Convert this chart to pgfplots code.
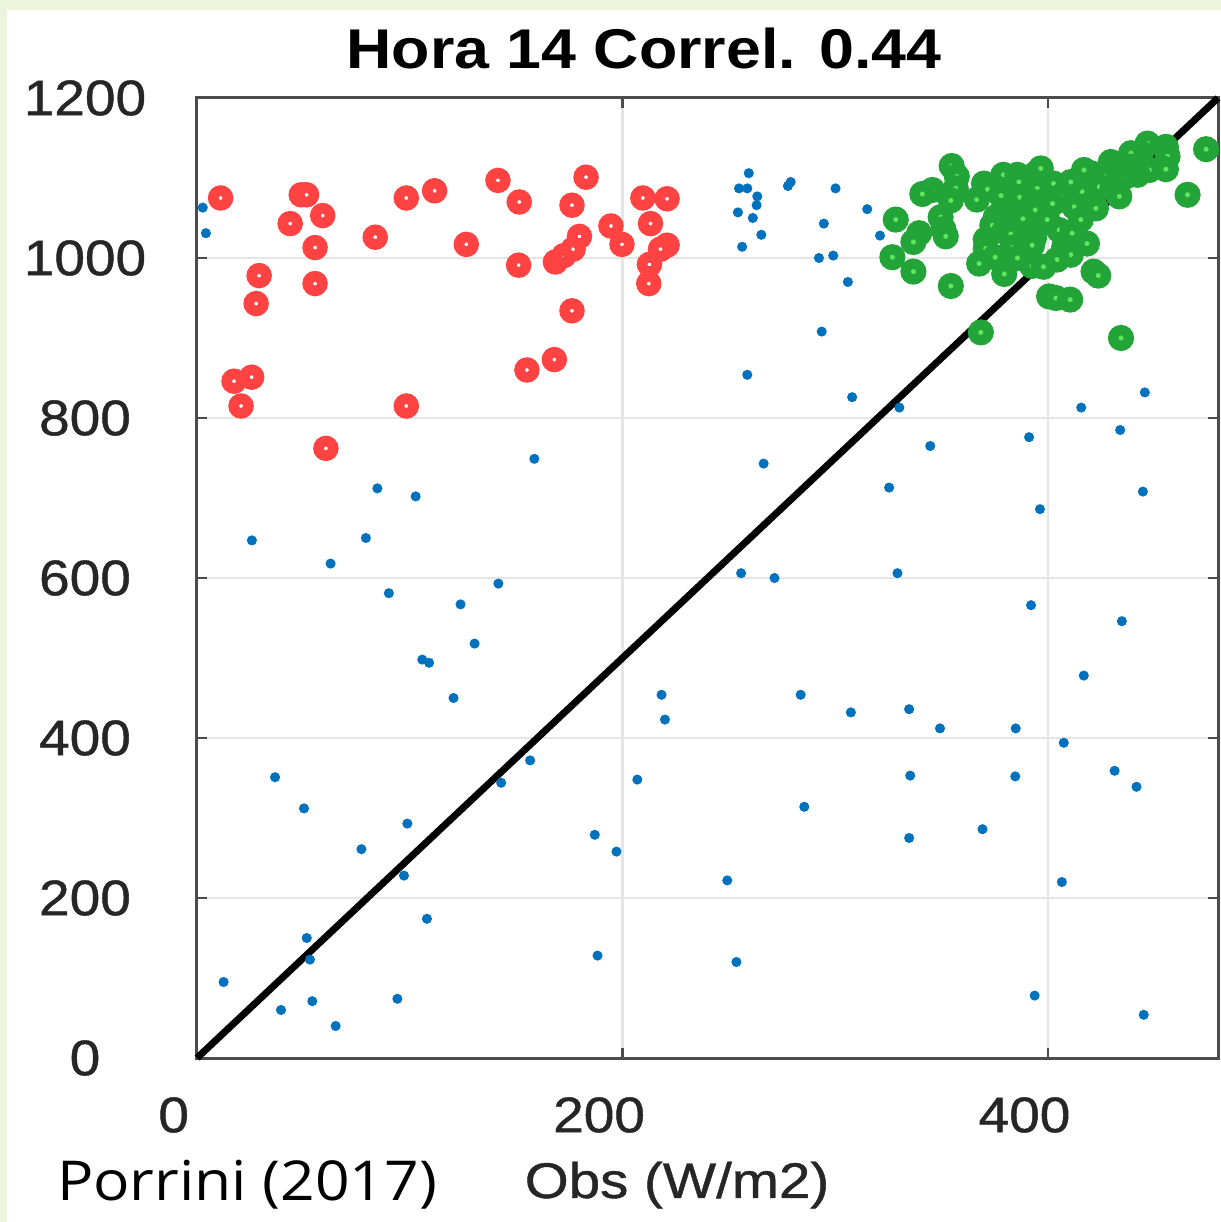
\documentclass[border=0pt]{standalone}
\usepackage{fontspec}
\setmainfont{Liberation Sans}
\newfontfamily\tickfont[FakeBold=0.8]{Liberation Sans}
\newfontfamily\osans{Open Sans}
\usepackage{graphicx}
\usepackage{pgfplots}
\pgfplotsset{compat=1.18}
\definecolor{mblue}{RGB}{0,114,189}
\definecolor{mred}{RGB}{255,66,66}
\definecolor{mgreen}{RGB}{34,164,56}
\definecolor{lgreen}{RGB}{92,232,92}
\definecolor{pale}{RGB}{238,243,219}
\definecolor{tickgray}{RGB}{38,38,38}
\begin{document}
\begin{tikzpicture}
\fill[pale] (-59.1pt,-49.2pt) rectangle (307.2pt,317.4pt);
\fill[white] (-57.0pt,-49.2pt) rectangle (307.2pt,314.4pt);
\begin{axis}[
  scale only axis, width=306.3pt, height=288pt,
  xmin=0, xmax=480, ymin=0, ymax=1200,
  xtick={0,200,400},
  ytick={0,200,400,600,800,1000,1200},
  tick pos=both, tick align=inside, major tick length=3pt,
  tick style={black!70, line width=0.8pt},
  axis line style={black!70, line width=0.9pt},
  grid=major, major grid style={black!10, line width=0.8pt},
  ticklabel style={font=\tickfont\fontsize{15}{18}\selectfont, text=tickgray},
  xticklabel style={anchor=center, xshift=-7pt, yshift=-17.1pt},
  yticklabel style={anchor=center, xshift=-33.6pt},
  xticklabel={\scalebox{1.1}[1]{\pgfmathprintnumber[assume math mode=true,fixed,precision=0]{\tick}}},
  yticklabel={\scalebox{1.1}[1]{\pgfmathprintnumber[assume math mode=true,fixed,precision=0,1000 sep={}]{\tick}}},
  clip=false,
]
\addplot[only marks, color=mblue, mark=*, mark size=1.3pt] coordinates {
(2.7,1063) (4.2,1031)
(259.4,1106) (254.8,1087) (258.7,1087) (263.4,1077) (263.1,1066) (254.3,1057) (261.3,1050) (265.3,1029) (256.3,1014) (279.1,1095) (277.8,1090) (300.2,1087) (294.7,1043) (292.4,1000) (299.1,1003) (306,970) (293.7,908) (258.7,854) (315.1,1061) (321.1,1028) (308,826)
(445.6,832)
(158.6,749) (84.8,712) (102.8,702) (25.8,647) (79.4,650) (62.8,618) (90.2,581) (123.9,567) (141.7,593) (130.5,518) (105.9,498) (109.1,494) (120.6,450) (218.4,454) (220,423) (36.7,351) (50.3,312) (156.6,372) (143,344) (207,348) (98.9,293) (77.3,261) (187,279) (197.2,258) (97.3,228) (108.1,174) (51.6,150) (53.1,123) (12.5,95) (188.3,128) (39.5,60) (54.2,71) (94.2,74) (65.2,40)
(330.2,813) (415.7,813) (391.2,776) (434,785) (344.7,765) (266.4,743) (325.4,713) (444.7,708) (396.3,686) (255.8,606) (271.5,600) (329.3,606) (392.1,566) (434.8,546) (416.9,478) (283.8,454) (307.4,432) (334.8,436) (349.3,412) (384.9,412) (407.5,394) (335.3,353) (384.7,352) (431.4,359) (441.7,339) (285.5,314) (369.3,286) (334.8,275) (249.3,222) (406.6,220) (253.6,120) (393.8,78) (445.1,54)
};
\addplot[black, line width=2.1pt] coordinates {(0,0) (480,1200)};
\addplot[only marks, mark=*, mark size=2.2pt, mark options={draw=mred, fill=white, line width=3.2pt}] coordinates {
(11.1,1075) (49,1079) (51.5,1079) (43.8,1043) (59.1,1053) (55.5,1013) (55.5,968) (29.2,978) (27.8,943) (17.4,846) (25.7,851) (20.7,815) (60.6,762) (83.8,1026) (98.4,1075) (111.7,1084) (98.4,815) (126.6,1017) (141.5,1097) (151.5,1070) (151.2,991) (155.1,860) (168,873) (168.5,995) (172.5,1003) (176.8,1011) (179.8,1027) (176.3,1066) (182.9,1101) (176.3,934) (194.6,1040) (199.8,1017) (209.6,1075) (221,1074) (213.2,1043) (221,1016) (217.9,1011) (212.7,992) (212.4,968)
};
\addplot[only marks, mark=*, mark size=2.35pt, mark options={draw=mgreen, fill=lgreen, line width=3.1pt}] coordinates {
(354.8,1115) (357.2,1102) (356.7,1087) (354.4,1072) (345.7,1085) (341,1080) (328.5,1048) (339.5,1031) (336.8,1020) (349.6,1051) (350.9,1036) (352,1027) (326.9,1001) (336.8,983) (354.4,965) (368.5,907) (366.6,1073) (370,1093) (371.6,1086) (379.1,1104) (385.7,1104) (386.4,1095) (394.5,1106) (395,1087) (378,1078) (386.8,1076) (393.3,1070) (394,1060) (379.5,1058) (375.5,1051) (385.4,1049) (388.3,1049) (373.9,1041) (393.5,1035) (379.5,1033) (370.8,1023) (382.6,1030) (393.5,1025) (370.8,1012) (383.4,1013) (392.6,1016) (375.2,1001) (385.7,1000) (367.7,993) (392.6,990) (379.5,980) (399.7,1073) (399.1,1045) (400.6,952)
(474.4,1136) (465.7,1079) (421.5,983) (423.7,978) (403.8,950) (410.5,948) (434.4,900)
(455.5,1139) (456.3,1127) (455.5,1111) (446.9,1143) (443.8,1131) (439.1,1131) (447.7,1110) (442.2,1104) (436.7,1102) (439.1,1114) (434.4,1116) (429.6,1120) (430.4,1110) (426.4,1102) (420.2,1106) (424.2,1089) (430.4,1087) (433.6,1077) (416.1,1083) (410.8,1095) (402.7,1093) (406.1,1077) (402.2,1068) (412.4,1064) (422.6,1062) (399.7,1048) (405.3,1035) (415.5,1048) (411.4,1031) (418.4,1018) (407.7,1014) (410.8,1004) (404.3,998) (398,989) (417,1110) (396.7,1112)
};
\end{axis}
\node[font=\bfseries\fontsize{16.8}{20}\selectfont] at (134.1pt,303pt) {\scalebox{1.12}[1]{Hora 14 Correl. 0.44}};
\node[font=\tickfont\fontsize{15}{18}\selectfont, text=tickgray] at (144pt,-38.1pt) {\scalebox{1.13}[1]{Obs (W/m2)}};
\node[font=\osans\fontsize{16.5}{20}\selectfont] at (15pt,-38.1pt) {\scalebox{1.1}[1]{Porrini (2017)}};
\pgfresetboundingbox
\useasboundingbox (-59.1pt,-49.2pt) rectangle (307.2pt,317.4pt);
\end{tikzpicture}
\end{document}
